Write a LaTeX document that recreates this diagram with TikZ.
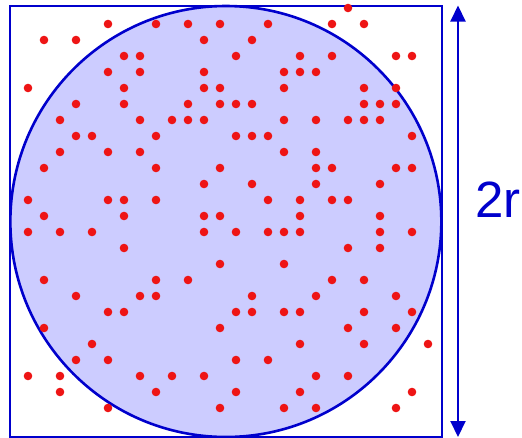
\documentclass[tikz,border=0pt]{standalone}
\usepackage{fontspec}
\setmainfont{Liberation Sans}
\usetikzlibrary{arrows.meta}
\definecolor{inkblue}{HTML}{0000CC}
\definecolor{inkfill}{HTML}{CCCCFF}
\definecolor{inkdot}{HTML}{EE1515}
\newcommand{\dotrow}[2]{%
  \foreach \i in {#2} {\fill[inkdot] ({12+16*\i},{8+16*#1}) circle (4.3pt);}}

\begin{document}
\begin{tikzpicture}[x=1pt, y=-1pt]
      \useasboundingbox (0,0) rectangle (522,437);
      % square and inscribed circle
      \draw[inkblue, line width=2.2pt] (10,6) rectangle (441.7,437);
      \filldraw[fill=inkfill, draw=inkblue, line width=2.6pt] (225.85,221.5) circle (215.5pt);
      % random points, one row per line
      \dotrow{0}{21}
      \dotrow{1}{6,9,11,13,16,20,22}
      \dotrow{2}{2,4,12,15}
      \dotrow{3}{7,8,14,18,20,24,25}
      \dotrow{4}{6,8,12,17,18,19}
      \dotrow{5}{1,7,12,13,17,22,24}
      \dotrow{6}{4,7,11,13,14,15,22,23,24}
      \dotrow{7}{3,8,10,11,12,17,19,21,22,23}
      \dotrow{8}{4,5,9,14,15,16,25}
      \dotrow{9}{3,6,8,17,19}
      \dotrow{10}{2,9,13,19,20,24,25}
      \dotrow{11}{12,15,19,23}
      \dotrow{12}{1,6,7,9,16,18,20,21}
      \dotrow{13}{2,7,12,13,18,23}
      \dotrow{14}{1,3,5,12,14,16,17,18,23,25}
      \dotrow{15}{7,21,23}
      \dotrow{16}{13,17}
      \dotrow{17}{2,9,11,20,22}
      \dotrow{18}{4,8,9,15,19,24}
      \dotrow{19}{6,7,14,15,17,18,22,25}
      \dotrow{20}{2,13,21,24}
      \dotrow{21}{5,18,22,26}
      \dotrow{22}{4,6,14,16}
      \dotrow{23}{1,3,8,10,12,19,21}
      \dotrow{24}{3,9,14,18,25}
      \dotrow{25}{6,13,17,19,24}
      % side length
      \coordinate (top) at (458,5.5);
      \coordinate (bot) at (458,437);
      \draw[{Triangle[width=15pt,length=16pt]}-{Triangle[width=15pt,length=16pt]},
            inkblue, line width=2pt] (top) -- (bot);
      \node[text=inkblue, inner sep=0pt, anchor=base, font=\fontsize{51}{51}\selectfont]
            (side) at (498,217) {2r};
    \end{tikzpicture}
\end{document}
